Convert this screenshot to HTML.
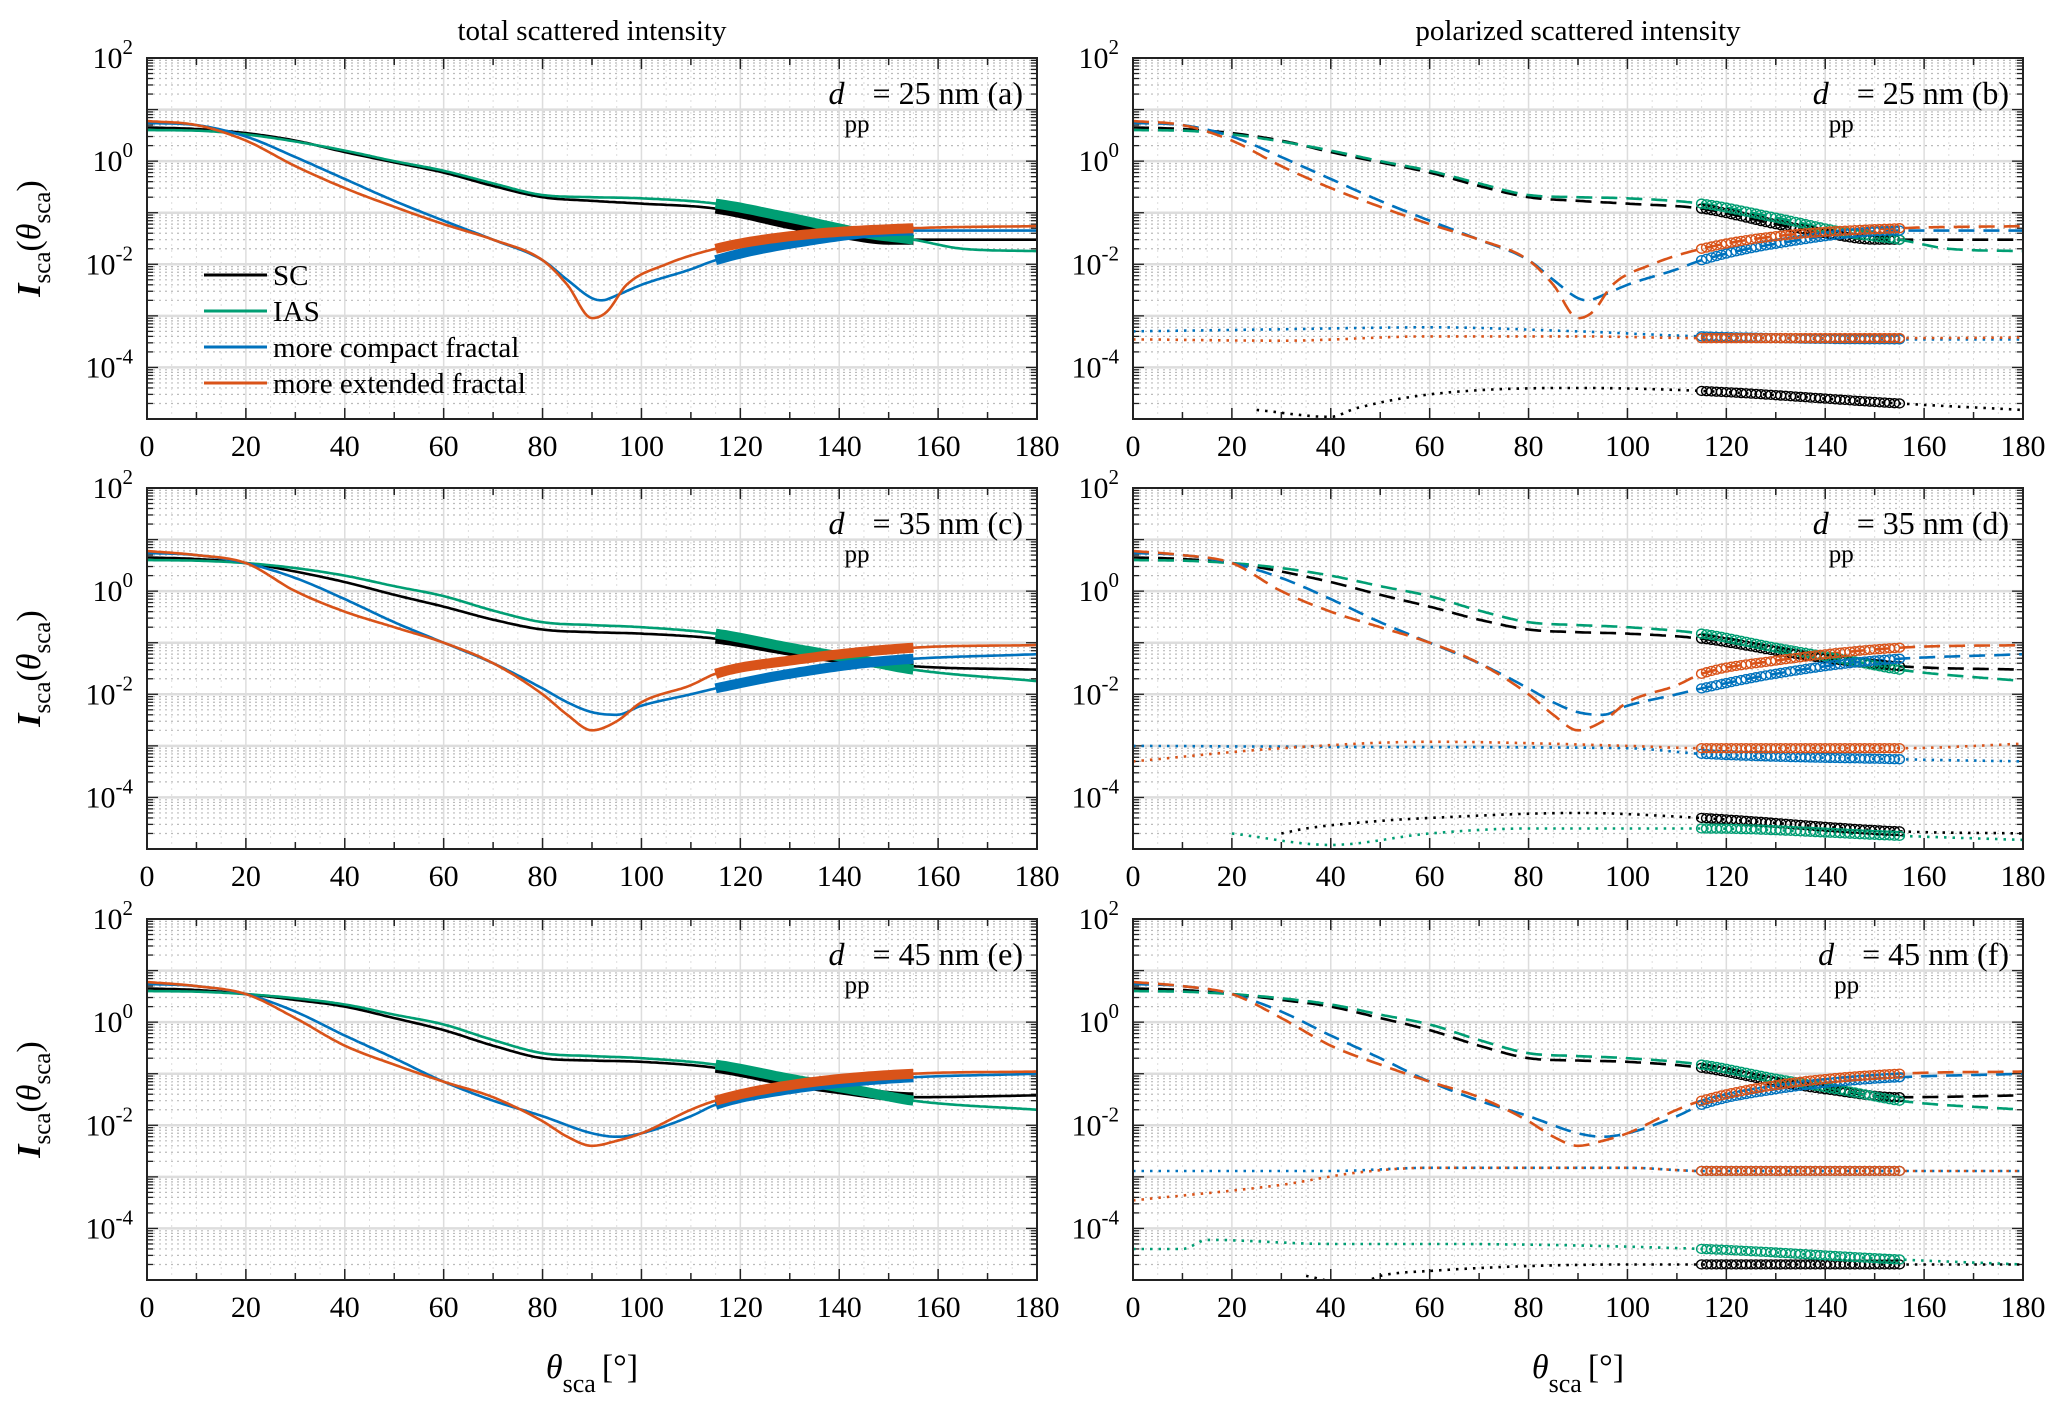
<!DOCTYPE html>
<html><head><meta charset="utf-8"><style>
html,body{margin:0;padding:0;background:#fff;}
svg{display:block;font-family:"Liberation Serif",serif;}
</style></head><body>
<svg id="fig" width="2067" height="1409" viewBox="0 0 2067 1409" xmlns="http://www.w3.org/2000/svg">
<text x="592" y="40" font-size="29" text-anchor="middle">total scattered intensity</text>
<text x="1578" y="40" font-size="29" text-anchor="middle">polarized scattered intensity</text>
<text x="592" y="1378" font-size="34" text-anchor="middle" font-style="italic">θ<tspan font-size="26" font-style="normal" dy="14">sca</tspan><tspan font-style="normal" dy="-14" dx="6">[°]</tspan></text>
<text x="1578" y="1378" font-size="34" text-anchor="middle" font-style="italic">θ<tspan font-size="26" font-style="normal" dy="14">sca</tspan><tspan font-style="normal" dy="-14" dx="6">[°]</tspan></text>
</svg>
<script>
// ---- data (theta in degrees, intensity values) ----
const thetaTicks=[0,20,40,60,80,100,120,140,160,180];
const yTickExps=[2,0,-2,-4];
const seriesNames=["SC","IAS","more compact fractal","more extended fractal"];
const colors=["#000000","#009e73","#0072bd","#d95319"];
const panelLabels=["25 nm (a)","25 nm (b)","35 nm (c)","35 nm (d)","45 nm (e)","45 nm (f)"];

// row 1 (a/b)
const r1_SC_t=[0,10,20,30,40,50,60,70,80,90,100,115,130,140,150,160,180];
const r1_SC_v=[4.5,4.2,3.5,2.5,1.5,0.95,0.6,0.33,0.2,0.17,0.15,0.12,0.06,0.04,0.03,0.03,0.03];
const r1_IAS_t=[0,10,20,30,40,50,60,70,80,90,100,115,130,145,155,165,180];
const r1_IAS_v=[4,3.9,3.3,2.4,1.6,1.0,0.65,0.37,0.22,0.2,0.19,0.15,0.08,0.04,0.03,0.02,0.018];
const r1_CF_t=[0,10,20,30,40,50,60,70,80,85,90,92,95,100,110,115,130,155,180];
const r1_CF_v=[5.5,5,3,1.2,0.45,0.17,0.07,0.03,0.012,0.005,0.0022,0.002,0.0025,0.004,0.008,0.012,0.025,0.045,0.045];
const r1_EF_t=[0,10,20,30,40,50,60,70,80,85,90,93,97,105,115,130,155,180];
const r1_EF_v=[6,5,2.5,0.8,0.3,0.13,0.06,0.03,0.012,0.004,0.0009,0.0012,0.004,0.01,0.02,0.035,0.05,0.055];
const r1_polSC_t=[25,40,45,60,90,115,155,180];
const r1_polSC_v=[1.5e-5,1.1e-5,1.6e-5,3e-5,4e-5,3.5e-5,2e-5,1.5e-5];
const r1_polIAS_t=[40,60,90];
const r1_polIAS_v=[8e-6,8e-6,8e-6];
const r1_polCF_t=[0,30,60,90,115,155,180];
const r1_polCF_v=[5e-4,5.5e-4,6e-4,5e-4,4e-4,3.5e-4,3.5e-4];
const r1_polEF_t=[0,30,60,90,115,155,180];
const r1_polEF_v=[3.5e-4,3.3e-4,4e-4,4e-4,3.7e-4,3.7e-4,3.8e-4];

// row 2 (c/d)
const r2_SC_t=[0,10,20,30,40,50,60,70,80,90,100,115,130,140,155,180];
const r2_SC_v=[4.5,4.2,3.5,2.4,1.5,0.85,0.5,0.28,0.18,0.16,0.15,0.12,0.07,0.05,0.035,0.03];
const r2_IAS_t=[0,10,20,30,40,50,60,70,80,90,100,115,130,145,155,180];
const r2_IAS_v=[4,3.9,3.5,2.8,2,1.25,0.8,0.42,0.25,0.22,0.2,0.15,0.08,0.045,0.03,0.018];
const r2_CF_t=[0,10,20,30,40,50,60,70,80,85,90,95,100,110,115,130,150,180];
const r2_CF_v=[5.5,5,3.5,1.8,0.7,0.25,0.1,0.04,0.013,0.007,0.0045,0.004,0.006,0.01,0.013,0.025,0.045,0.06];
const r2_EF_t=[0,10,20,30,40,50,60,70,80,85,90,95,100,110,115,130,155,180];
const r2_EF_v=[6,5,3.5,1.0,0.4,0.2,0.1,0.04,0.01,0.004,0.002,0.003,0.007,0.015,0.025,0.045,0.08,0.09];
const r2_polSC_t=[30,35,50,60,90,115,155,180];
const r2_polSC_v=[2e-5,2.5e-5,3.5e-5,4e-5,5e-5,4e-5,2.2e-5,2e-5];
const r2_polIAS_t=[20,40,60,80,115,155,180];
const r2_polIAS_v=[2e-5,1.2e-5,2e-5,2.5e-5,2.5e-5,1.8e-5,1.5e-5];
const r2_polCF_t=[0,50,100,115,155,180];
const r2_polCF_v=[1e-3,9.5e-4,9e-4,7e-4,5.5e-4,5e-4];
const r2_polEF_t=[0,30,60,100,115,155,180];
const r2_polEF_v=[5e-4,9e-4,1.2e-3,1e-3,9e-4,9e-4,1.1e-3];

// row 3 (e/f)
const r3_SC_t=[0,10,20,30,40,50,60,70,80,90,100,115,130,140,155,180];
const r3_SC_v=[4.5,4.2,3.5,2.7,2,1.2,0.7,0.35,0.2,0.18,0.17,0.13,0.07,0.05,0.035,0.038];
const r3_IAS_t=[0,10,20,30,40,50,60,70,80,90,100,115,130,145,155,180];
const r3_IAS_v=[4,3.9,3.5,2.9,2.2,1.4,0.9,0.45,0.25,0.22,0.2,0.15,0.08,0.045,0.03,0.02];
const r3_CF_t=[0,10,20,30,40,50,60,70,80,90,95,100,110,115,130,150,180];
const r3_CF_v=[5.5,5,3.5,1.6,0.55,0.2,0.07,0.03,0.015,0.007,0.006,0.007,0.015,0.025,0.05,0.08,0.1];
const r3_EF_t=[0,10,20,30,40,50,60,70,80,85,90,95,100,110,115,130,155,180];
const r3_EF_v=[6,5,3.5,1.2,0.35,0.15,0.07,0.035,0.012,0.006,0.004,0.005,0.007,0.02,0.03,0.06,0.1,0.11];
const r3_polSC_t=[35,45,50,60,100,115,155,180];
const r3_polSC_v=[1.2e-5,8e-6,1.2e-5,1.5e-5,2e-5,2e-5,2e-5,2e-5];
const r3_polIAS_t=[0,10,15,40,60,115,155,180];
const r3_polIAS_v=[4e-5,4e-5,6e-5,5e-5,5e-5,4e-5,2.5e-5,2e-5];
const r3_polCF_t=[0,40,60,100,115,155,180];
const r3_polCF_v=[1.3e-3,1.3e-3,1.5e-3,1.5e-3,1.3e-3,1.3e-3,1.3e-3];
const r3_polEF_t=[0,30,45,60,100,115,155,180];
const r3_polEF_v=[3.5e-4,7e-4,1.2e-3,1.5e-3,1.5e-3,1.3e-3,1.3e-3,1.3e-3];

const rows=[
 {tot:[[r1_SC_t,r1_SC_v],[r1_IAS_t,r1_IAS_v],[r1_CF_t,r1_CF_v],[r1_EF_t,r1_EF_v]],
  pol:[[r1_polSC_t,r1_polSC_v],[r1_polIAS_t,r1_polIAS_v],[r1_polCF_t,r1_polCF_v],[r1_polEF_t,r1_polEF_v]]},
 {tot:[[r2_SC_t,r2_SC_v],[r2_IAS_t,r2_IAS_v],[r2_CF_t,r2_CF_v],[r2_EF_t,r2_EF_v]],
  pol:[[r2_polSC_t,r2_polSC_v],[r2_polIAS_t,r2_polIAS_v],[r2_polCF_t,r2_polCF_v],[r2_polEF_t,r2_polEF_v]]},
 {tot:[[r3_SC_t,r3_SC_v],[r3_IAS_t,r3_IAS_v],[r3_CF_t,r3_CF_v],[r3_EF_t,r3_EF_v]],
  pol:[[r3_polSC_t,r3_polSC_v],[r3_polIAS_t,r3_polIAS_v],[r3_polCF_t,r3_polCF_v],[r3_polEF_t,r3_polEF_v]]}
];

// ---- drawing ----
const NS="http://www.w3.org/2000/svg";
const svg=document.getElementById('fig');
function mk(tag,attrs,parent){const e=document.createElementNS(NS,tag);for(const k in attrs)e.setAttribute(k,attrs[k]);(parent||svg).appendChild(e);return e;}
const colX=[147,1133], W=890;
const rowY=[58,488,919], H=361;
const yMin=-5,yMax=2;
// monotone cubic interpolation in log space
function interp(ts,vs,t){
  const n=ts.length;
  if(t<ts[0]||t>ts[n-1])return null;
  const y=vs.map(v=>Math.log10(v));
  if(n<3){const f=n==1?0:(t-ts[0])/(ts[1]-ts[0]);return n==1?y[0]:y[0]*(1-f)+y[1]*f;}
  const d=[],m=[];
  for(let i=0;i<n-1;i++)d.push((y[i+1]-y[i])/(ts[i+1]-ts[i]));
  m[0]=d[0];m[n-1]=d[n-2];
  for(let i=1;i<n-1;i++){m[i]=(d[i-1]*d[i]<=0)?0:(d[i-1]+d[i])/2;}
  for(let i=0;i<n-1;i++){if(d[i]===0){m[i]=0;m[i+1]=0;continue;}const a=m[i]/d[i],b=m[i+1]/d[i];const s=a*a+b*b;if(s>9){const tt=3/Math.sqrt(s);m[i]=tt*a*d[i];m[i+1]=tt*b*d[i];}}
  let i=0;while(i<n-2&&t>ts[i+1])i++;
  const h=ts[i+1]-ts[i],u=(t-ts[i])/h;
  const h00=2*u*u*u-3*u*u+1,h10=u*u*u-2*u*u+u,h01=-2*u*u*u+3*u*u,h11=u*u*u-u*u;
  return h00*y[i]+h10*h*m[i]+h01*y[i+1]+h11*h*m[i+1];
}
let clipId=0;
for(let r=0;r<3;r++){for(let c=0;c<2;c++){
  const x0=colX[c],y0=rowY[r];
  const xs=t=>x0+t/180*W;
  const ys=lg=>y0+(yMax-lg)/(yMax-yMin)*H;
  const g=mk('g',{});
  
  
  const cid='clip'+(clipId++);
  const cp=mk('clipPath',{id:cid},g);mk('rect',{x:x0,y:y0,width:W,height:H},cp);
  // grid
  for(let e=yMin;e<yMax;e++){for(let m=2;m<=9;m++){const y=ys(e+Math.log10(m));mk('line',{x1:x0,x2:x0+W,y1:y,y2:y,stroke:'#bbb','stroke-width':1.2,'stroke-dasharray':'2 4'},g);}}
  for(let t=5;t<180;t+=5){if(t%20){const x=xs(t);mk('line',{x1:x,x2:x,y1:y0,y2:y0+H,stroke:'#ddd','stroke-width':1,'stroke-dasharray':'2 4'},g);}}
  for(let e=yMin+1;e<yMax;e++){const y=ys(e);mk('line',{x1:x0,x2:x0+W,y1:y,y2:y,stroke:'#ddd','stroke-width':2.5},g);}
  thetaTicks.forEach(t=>{if(t>0&&t<180){const x=xs(t);mk('line',{x1:x,x2:x,y1:y0,y2:y0+H,stroke:'#ddd','stroke-width':1.5},g);}});
  // ticks
  for(let t=0;t<=180;t+=10){const x=xs(t);const L=t%20?7:11;mk('line',{x1:x,x2:x,y1:y0+H,y2:y0+H-L,stroke:'#222','stroke-width':1.5},g);mk('line',{x1:x,x2:x,y1:y0,y2:y0+L,stroke:'#222','stroke-width':1.5},g);}
  for(let e=yMin;e<yMax;e++){for(let m=1;m<=9;m++){const y=ys(e+Math.log10(m));const L=m==1?11:6;mk('line',{x1:x0,x2:x0+L,y1:y,y2:y,stroke:'#222','stroke-width':1.3},g);mk('line',{x1:x0+W,x2:x0+W-L,y1:y,y2:y,stroke:'#222','stroke-width':1.3},g);}}
  // tick labels
  thetaTicks.forEach(t=>{const tx=mk('text',{x:xs(t),y:y0+H+37,'font-size':30,'text-anchor':'middle'},g);tx.textContent=t;
    
    });
  yTickExps.forEach(e=>{const tx=mk('text',{x:x0-14,y:ys(e)+10,'font-size':30,'text-anchor':'end'},g);tx.innerHTML='10<tspan dy="-14" font-size="21">'+e+'</tspan>';
    
    });
  // y title
  if(c==0){const yt=mk('text',{x:0,y:0,'font-size':34,'text-anchor':'middle',transform:'translate(40,'+(y0+H/2)+') rotate(-90)'},g);
    yt.innerHTML='<tspan font-style="italic" font-weight="bold">I</tspan><tspan font-size="25" dy="10">sca</tspan><tspan dy="-10">(</tspan><tspan font-style="italic">θ</tspan><tspan font-size="25" dy="10">sca</tspan><tspan dy="-10">)</tspan>';
    
    }
  // series
  const dg=mk('g',{'clip-path':'url(#'+cid+')'},g);
  const tot=rows[r].tot;
  function pathOf(ts,vs){let d='';for(let t=0;t<=180;t+=0.5){const lg=interp(ts,vs,t);if(lg===null)continue;d+=(d?'L':'M')+xs(t).toFixed(1)+','+ys(lg).toFixed(1);}return d;}
  tot.forEach((s,i)=>{
    const p=mk('path',{d:pathOf(s[0],s[1]),fill:'none',stroke:colors[i],'stroke-width':2.6},dg);
    if(c==1)p.setAttribute('stroke-dasharray','16 9');
    
    
    if(c==0){
      let d='';for(let t=115;t<=155;t++){const lg=interp(s[0],s[1],t);d+=(d?'L':'M')+xs(t).toFixed(1)+','+ys(lg).toFixed(1);}
      const th=mk('path',{d:d,fill:'none',stroke:colors[i],'stroke-width':10},dg);
      
      
    }
  });
  if(c==1){
    rows[r].pol.forEach((s,i)=>{
      const p=mk('path',{d:pathOf(s[0],s[1]),fill:'none',stroke:colors[i],'stroke-width':2.6,'stroke-dasharray':'2.5 6'},dg);
      
      
    });
    [tot,rows[r].pol].forEach(set=>set.forEach((s,i)=>{
      for(let t=115;t<=155;t++){const lg=interp(s[0],s[1],t);if(lg===null)continue;const y=ys(lg);if(y>y0+H)continue;
        const ci=mk('ellipse',{cx:xs(t),cy:y,rx:5,ry:4.5,fill:'none',stroke:colors[i],'stroke-width':1.4},dg);
        
        }
    }));
  }
  mk('rect',{x:x0,y:y0,width:W,height:H,fill:'none',stroke:'#222','stroke-width':2},g);
  // annotation
  const an=mk('text',{x:x0+W-14,y:y0+46,'font-size':32,'text-anchor':'end'},g);
  an.textContent='= '+panelLabels[r*2+c];
  
  
  const aw=an.getComputedTextLength();
  const ad=mk('text',{x:x0+W-14-aw-44,y:y0+46,'font-size':32,'font-style':'italic'},g);ad.textContent='d';
  
  
  const ap=mk('text',{x:x0+W-14-aw-28,y:y0+74,'font-size':25},g);ap.textContent='pp';
  
  
  // legend
  if(r==0&&c==0){
    const lg=mk('g',{},g);
    
    
    seriesNames.forEach((n,i)=>{const y=275+i*36;
      mk('line',{x1:204,x2:267,y1:y,y2:y,stroke:colors[i],'stroke-width':3},lg);
      const t=mk('text',{x:273,y:y+10,'font-size':29},lg);t.textContent=n;
      
      });
  }
}}
</script>
</body></html>
